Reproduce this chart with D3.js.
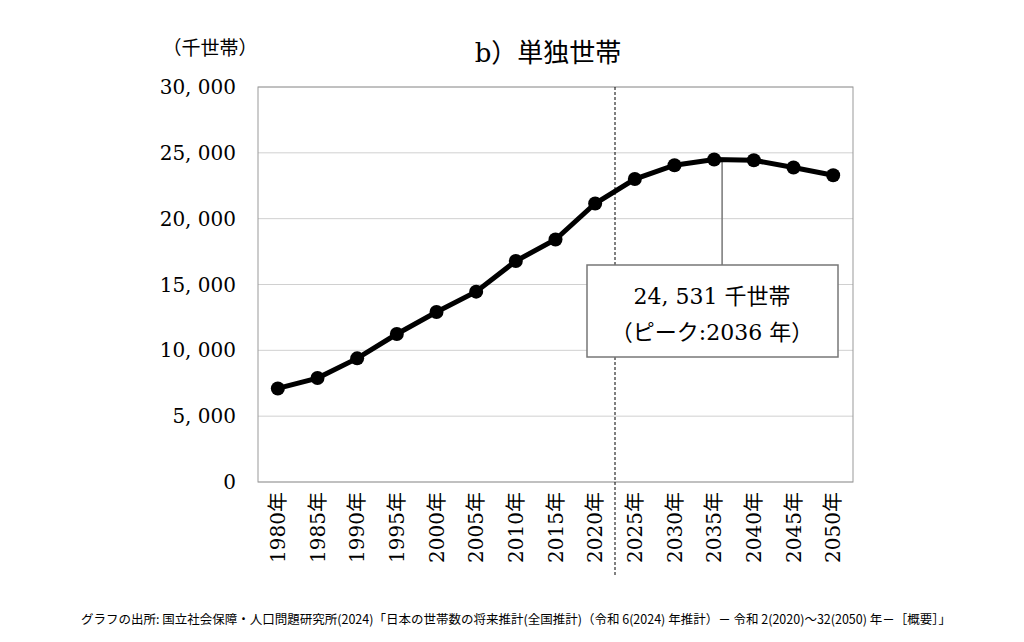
<!DOCTYPE html>
<html><head><meta charset="utf-8">
<script src="https://cdn.jsdelivr.net/npm/d3@7"></script>
<style>body{margin:0;background:#fff}svg{display:block}</style>
</head><body>
<svg id="c" width="1024" height="642"></svg>
<script>
const years = ["1980年","1985年","1990年","1995年","2000年","2005年","2010年","2015年","2020年","2025年","2030年","2035年","2040年","2045年","2050年"];
const households = [7105,7895,9390,11239,12911,14457,16785,18418,21151,23007,24060,24498,24435,23883,23301];
const yTicks = [0,5000,10000,15000,20000,25000,30000];
const peakYear = 2036, peakValue = 24531;

const serif = "'DejaVu Serif','Liberation Serif','Noto Sans CJK JP',serif";
const sans = "'Noto Sans CJK JP','Noto Sans',sans-serif";
const svg = d3.select("#c");
const L = 258, R = 853, T = 87, B = 482;

const x = d3.scalePoint().domain(years).range([L, R]).padding(0.5);
const y = d3.scaleLinear().domain([0, 30000]).range([B, T]);

// grid
svg.append("g").selectAll("line").data(yTicks).enter().append("line")
  .attr("x1", L).attr("x2", R).attr("y1", d => y(d)).attr("y2", d => y(d))
  .attr("stroke", "#d0d0d0");
svg.append("rect").attr("x", L).attr("y", T).attr("width", R - L).attr("height", B - T)
  .attr("fill", "none").attr("stroke", "#999");

// y axis labels
svg.append("g").selectAll("text").data(yTicks).enter().append("text")
  .attr("x", 236).attr("y", d => y(d) + 7).attr("text-anchor", "end")
  .attr("font-family", serif).attr("font-size", 20)
  .text(d => d3.format(",")(d).replace(",", ", "));

// x labels (vertical)
svg.append("g").selectAll("text").data(years).enter().append("text")
  .attr("transform", d => `translate(${x(d) + 7},${B + 10}) rotate(-90)`)
  .attr("text-anchor", "end").attr("font-family", serif).attr("font-size", 20)
  .text(d => d);

// dashed divider between 2020 and 2025
const divX = (x("2020年") + x("2025年")) / 2;
svg.append("line").attr("x1", divX).attr("x2", divX).attr("y1", T).attr("y2", 575)
  .attr("stroke", "#000").attr("stroke-dasharray", "3,2");

// peak callout
const px = x("2035年") + (x("2040年") - x("2035年")) / 5;
svg.append("line").attr("x1", px).attr("x2", px).attr("y1", y(peakValue)).attr("y2", 265)
  .attr("stroke", "#777").attr("stroke-width", 1.5);
svg.append("rect").attr("x", 587).attr("y", 265).attr("width", 251).attr("height", 92)
  .attr("fill", "#fff").attr("stroke", "#777").attr("stroke-width", 1.5);
svg.append("text").attr("x", 712).attr("y", 304).attr("text-anchor", "middle")
  .attr("font-family", serif).attr("font-size", 22).text(d3.format(",")(peakValue).replace(",", ", ") + " 千世帯");
svg.append("text").attr("x", 712).attr("y", 340).attr("text-anchor", "middle")
  .attr("font-family", serif).attr("font-size", 22).text("（ピーク:" + peakYear + " 年）");

// line + points
svg.append("path").datum(households)
  .attr("d", d3.line().x((d, i) => x(years[i])).y(d => y(d)))
  .attr("fill", "none").attr("stroke", "#000").attr("stroke-width", 5);
svg.append("g").selectAll("circle").data(households).enter().append("circle")
  .attr("cx", (d, i) => x(years[i])).attr("cy", d => y(d)).attr("r", 7).attr("fill", "#000");

// titles
svg.append("text").attr("x", 548).attr("y", 62).attr("text-anchor", "middle")
  .attr("font-family", serif).attr("font-size", 26).text("b）単独世帯");
svg.append("text").attr("x", 210).attr("y", 55).attr("text-anchor", "middle")
  .attr("font-family", serif).attr("font-size", 19).text("（千世帯）");
svg.append("text").attr("x", 516).attr("y", 624).attr("text-anchor", "middle")
  .attr("font-family", sans).attr("font-size", 12.5)
  .text("グラフの出所: 国立社会保障・人口問題研究所(2024)「日本の世帯数の将来推計(全国推計)（令和 6(2024) 年推計）－ 令和 2(2020)～32(2050) 年－［概要］」");
</script>
</body></html>
